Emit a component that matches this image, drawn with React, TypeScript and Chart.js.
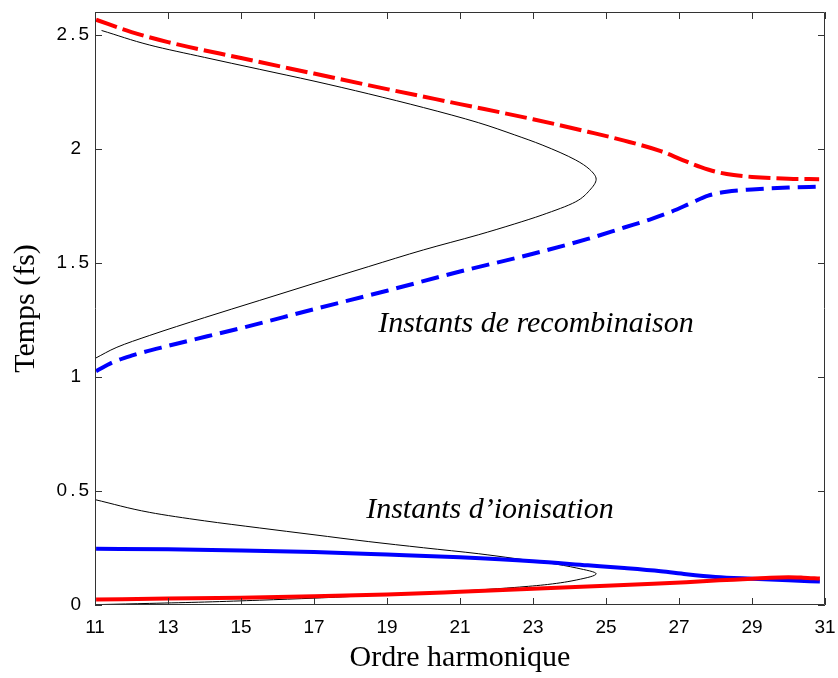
import React, { useEffect, useRef } from "react";
import { Chart, registerables } from "chart.js";

Chart.register(...registerables);

// ---- Data ----
const xTicks = [11, 13, 15, 17, 19, 21, 23, 25, 27, 29, 31];
const yTicks = [0, 0.5, 1, 1.5, 2, 2.5];
const yTickLabels = ["0", "0.5", "1", "1.5", "2", "2.5"];

// Recombination times, long trajectory (red dashed)
const recLongX = [11.03, 12, 13, 15, 17, 19, 21, 23, 24.5, 25.5, 26.5, 27.1, 27.6, 28.0, 28.5, 29, 30, 30.84];
const recLongY = [2.566, 2.512, 2.468, 2.398, 2.33, 2.262, 2.196, 2.13, 2.075, 2.036, 1.99, 1.951, 1.92, 1.9, 1.885, 1.877, 1.869, 1.867];

// Recombination times, short trajectory (blue dashed)
const recShortX = [11.03, 11.5, 12, 13, 15, 17, 19, 21, 23, 24.5, 25.5, 26.2, 26.8, 27.3, 27.8, 28.3, 29, 30, 30.84];
const recShortY = [1.025, 1.065, 1.093, 1.136, 1.214, 1.297, 1.378, 1.462, 1.54, 1.605, 1.655, 1.69, 1.725, 1.76, 1.795, 1.812, 1.822, 1.83, 1.834];

// Recombination times, classical model (thin black, upper branch then lower branch)
const recClassX = [11.18, 12.5, 14, 15.5, 17, 18.5, 20, 21.5, 22.5, 23.25, 24.17, 24.55, 24.73, 24.55, 24.17, 23.25, 22.5, 21.5, 20, 18.5, 17, 15.5, 14, 12.5, 11.6, 11.0];
const recClassY = [2.519, 2.455, 2.401, 2.349, 2.297, 2.241, 2.181, 2.115, 2.061, 2.017, 1.951, 1.91, 1.867, 1.818, 1.768, 1.71, 1.671, 1.623, 1.557, 1.484, 1.41, 1.335, 1.26, 1.182, 1.13, 1.081];

// Ionisation times, short trajectory (blue solid)
const ionShortX = [11.03, 13, 15, 17, 19, 21, 23, 24.5, 25.5, 26.5, 27.2, 28, 29, 30, 30.86];
const ionShortY = [0.247, 0.244, 0.239, 0.232, 0.221, 0.209, 0.192, 0.174, 0.162, 0.148, 0.135, 0.123, 0.115, 0.108, 0.103];

// Ionisation times, long trajectory (red solid)
const ionLongX = [11.03, 13, 15, 17, 19, 21, 23, 25, 26.3, 27.2, 28.1, 29, 29.5, 30, 30.4, 30.86];
const ionLongY = [0.024, 0.028, 0.032, 0.038, 0.046, 0.058, 0.071, 0.084, 0.093, 0.1, 0.108, 0.115, 0.12, 0.122, 0.12, 0.116];

// Ionisation times, classical model (thin black, upper branch then lower branch)
const ionClassX = [11.0, 12.5, 14, 15.5, 17, 18.5, 20, 21.5, 22.5, 23.4, 24.2, 24.73, 24.2, 23.4, 22.5, 21.5, 20, 18.5, 17, 15.5, 14, 12.5, 11.16];
const ionClassY = [0.462, 0.406, 0.369, 0.338, 0.308, 0.278, 0.251, 0.225, 0.204, 0.185, 0.162, 0.137, 0.11, 0.09, 0.077, 0.066, 0.053, 0.041, 0.03, 0.021, 0.013, 0.007, 0.002];

const annotationTexts = ["Instants de recombinaison", "Instants d\u2019ionisation"];

const pts = (xs: number[], ys: number[]) => xs.map((x, i) => ({ x, y: ys[i] }));

const framePlugin = {
  id: "frameTicks",
  afterDatasetsDraw(chart: any) {
    const { ctx, chartArea, scales } = chart;
    const { left, right, top, bottom } = chartArea;
    const xs = scales.x;
    const ys = scales.y;
    ctx.save();
    ctx.strokeStyle = "#333";
    ctx.lineWidth = 1;
    ctx.beginPath();
    ctx.rect(Math.round(left) + 0.5, Math.round(top) + 0.5, Math.round(right - left) - 1, Math.round(bottom - top) - 1);
    ctx.stroke();
    const tl = 7;
    ctx.beginPath();
    xTicks.forEach((v) => {
      const px = Math.round(xs.getPixelForValue(v)) + 0.5;
      ctx.moveTo(px, bottom);
      ctx.lineTo(px, bottom - tl);
      ctx.moveTo(px, top);
      ctx.lineTo(px, top + tl);
    });
    yTicks.forEach((v) => {
      const py = Math.round(ys.getPixelForValue(v)) + 0.5;
      ctx.moveTo(left, py);
      ctx.lineTo(left + tl, py);
      ctx.moveTo(right, py);
      ctx.lineTo(right - tl, py);
    });
    ctx.stroke();

    // Y tick labels (decimal labels are a little wider, as in the reference)
    ctx.fillStyle = "#000";
    ctx.font = '19px "Liberation Sans", Arial, sans-serif';
    ctx.textBaseline = "middle";
    ctx.textAlign = "right";
    yTicks.forEach((v, i) => {
      const label = yTickLabels[i];
      const py = ys.getPixelForValue(v);
      if (label.indexOf(".") < 0) {
        (ctx as any).letterSpacing = "0px";
        ctx.fillText(label, left - 14, py);
      } else {
        (ctx as any).letterSpacing = "3px";
        ctx.fillText(label, left - 3, py);
      }
    });
    (ctx as any).letterSpacing = "0px";

    // Annotations
    ctx.font = 'italic 30px "Liberation Serif"';
    ctx.textAlign = "center";
    ctx.textBaseline = "alphabetic";
    ctx.fillText(annotationTexts[0], xs.getPixelForValue(23.08), ys.getPixelForValue(1.198));
    ctx.fillText(annotationTexts[1], xs.getPixelForValue(21.82), ys.getPixelForValue(0.38));
    ctx.restore();
  },
};

export default function App() {
  const canvasRef = useRef<HTMLCanvasElement | null>(null);

  useEffect(() => {
    const canvas = canvasRef.current;
    if (!canvas) return;
    const curve = (data: any[], color: string, width: number, dash: number[]) => ({
      data,
      borderColor: color,
      backgroundColor: color,
      borderWidth: width,
      borderDash: dash,
      pointRadius: 0,
      pointHoverRadius: 0,
      cubicInterpolationMode: "monotone" as const,
      fill: false,
    });
    // The classical curves fold back in x but are monotone in time (y),
    // so they are interpolated along the y axis.
    const foldCurve = (data: any[]) => ({
      data,
      indexAxis: "y" as const,
      borderColor: "#000000",
      backgroundColor: "#000000",
      borderWidth: 1,
      pointRadius: 0,
      pointHoverRadius: 0,
      cubicInterpolationMode: "monotone" as const,
      fill: false,
    });
    const chart = new Chart(canvas, {
      type: "line",
      data: {
        datasets: [
          curve(pts(ionLongX, ionLongY), "#ff0000", 4, []),
          curve(pts(ionShortX, ionShortY), "#0000ff", 4, []),
          curve(pts(recLongX, recLongY), "#ff0000", 4, [22, 6]),
          curve(pts(recShortX, recShortY), "#0000ff", 4, [18, 8]),
          foldCurve(pts(recClassX, recClassY)),
          foldCurve(pts(ionClassX, ionClassY)),
        ] as any,
      },
      options: {
        responsive: false,
        animation: false,
        events: [],
        layout: { padding: { left: 0, right: 13, top: 12, bottom: 0 } },
        plugins: {
          legend: { display: false },
          tooltip: { enabled: false },
        },
        scales: {
          x: {
            type: "linear",
            min: 11,
            max: 31,
            afterFit: (s: any) => {
              s.height = 73;
              s.paddingLeft = 0;
              s.paddingRight = 0;
            },
            afterBuildTicks: (s: any) => {
              s.ticks = xTicks.map((v) => ({ value: v }));
            },
            ticks: {
              includeBounds: false,
              padding: 11,
              color: "#000",
              font: { family: '"Liberation Sans", Arial, sans-serif', size: 19 },
              callback: (v: any) => String(v),
            },
            grid: { display: false, drawTicks: false },
            border: { display: false },
            title: {
              display: true,
              text: "Ordre harmonique",
              color: "#000",
              font: { family: '"Liberation Serif", serif', size: 30, lineHeight: 1 },
              padding: { top: 0, bottom: 5 },
            },
          },
          y: {
            type: "linear",
            min: 0,
            max: 2.6,
            afterFit: (s: any) => {
              s.width = 95;
              s.paddingTop = 0;
              s.paddingBottom = 0;
            },
            afterBuildTicks: (s: any) => {
              s.ticks = yTicks.map((v) => ({ value: v }));
            },
            ticks: {
              display: false,
              includeBounds: false,
            },
            grid: { display: false, drawTicks: false },
            border: { display: false },
            title: {
              display: true,
              text: "Temps (fs)",
              color: "#000",
              font: { family: '"Liberation Serif", serif', size: 30, lineHeight: 1 },
              padding: { top: 11, bottom: 0 },
            },
          },
        },
      },
      plugins: [framePlugin],
    });
    return () => chart.destroy();
  }, []);

  return (
    <div style={{ position: "absolute", left: 0, top: 0, width: 838, height: 678, background: "#fff" }}>
      <canvas ref={canvasRef} width={838} height={678} style={{ display: "block" }} />
    </div>
  );
}
